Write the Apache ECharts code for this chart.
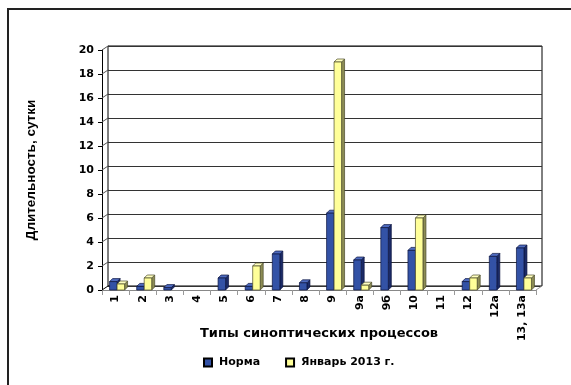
<!DOCTYPE html>
<html>
<head>
<meta charset="utf-8">
<script src="https://cdn.jsdelivr.net/npm/echarts@6/dist/echarts.min.js"></script>
<style>html,body{margin:0;padding:0;background:#fff;}#c{width:571px;height:385px;}</style>
</head>
<body>
<div id="c"></div>
<script>
var categories = ['1','2','3','4','5','6','7','8','9','9а','9б','10','11','12','12а','13, 13а'];
var normaValues = [0.7, 0.3, 0.2, 0, 1.0, 0.3, 3.0, 0.6, 6.4, 2.5, 5.2, 3.3, 0, 0.7, 2.8, 3.5];
var jan2013Values = [0.5, 1.0, 0, 0, 0, 2.0, 0, 0, 19, 0.4, 0, 6.0, 0, 1.0, 0, 1.0];
var yTicks = [0, 2, 4, 6, 8, 10, 12, 14, 16, 18, 20];
var seriesNames = ['Норма', 'Январь 2013 г.'];

var DX = 3, DY = -3, BW = 7.5;
var palettes = [
  {front: '#3352A6', side: '#1B2A66', top: '#4F6CC0', edge: '#0B1440'},
  {front: '#FFFF99', side: '#8C8C55', top: '#FFFFC0', edge: '#4A4A2A'}
];

function barRenderer(idx) {
  var p = palettes[idx];
  return function (params, api) {
    var ci = api.value(0), v = api.value(1);
    if (!v) return null;
    var t = api.coord([ci, v]);
    var b = api.coord([ci, 0]);
    var cx = t[0];
    var x0 = idx === 0 ? cx - 6 : cx + 1.5;
    var yT = t[1], yB = b[1];
    return {
      type: 'group',
      children: [
        {type: 'polygon', shape: {points: [[x0 + BW, yB], [x0 + BW + DX, yB + DY], [x0 + BW + DX, yT + DY], [x0 + BW, yT]]},
          style: {fill: p.side, stroke: p.edge, lineWidth: 0.7}},
        {type: 'polygon', shape: {points: [[x0, yT], [x0 + DX, yT + DY], [x0 + BW + DX, yT + DY], [x0 + BW, yT]]},
          style: {fill: p.top, stroke: p.edge, lineWidth: 0.7}},
        {type: 'rect', shape: {x: x0, y: yT, width: BW, height: yB - yT},
          style: {fill: p.front, stroke: p.edge, lineWidth: 0.7}}
      ]
    };
  };
}

function wallRenderer(params, api) {
  var v = api.value(1);
  var c = api.coord([0, v]);
  var half = api.size([1, 0])[0] / 2;
  var x = c[0] - half, y = c[1];
  return {type: 'line', shape: {x1: x, y1: y, x2: x + 6.5, y2: y - 4.3},
    style: {stroke: v === 0 ? '#000' : '#555', lineWidth: 1}};
}
function floorRenderer(params, api) {
  var c = api.coord([categories.length - 1, 0]);
  var half = api.size([1, 0])[0] / 2;
  var x = c[0] + half, y = c[1];
  return {type: 'line', shape: {x1: x, y1: y, x2: x + 6.5, y2: y - 4.3},
    style: {stroke: '#999', lineWidth: 1}};
}

var chart = echarts.init(document.getElementById('c'), null, {renderer: 'canvas'});
var FONT = 'DejaVu Sans';
chart.setOption({
  animation: false,
  backgroundColor: '#fff',
  graphic: [
    {type: 'rect', shape: {x: 8, y: 9, width: 700, height: 500}, style: {fill: 'none', stroke: '#222', lineWidth: 2}, silent: true, z: 100}
  ],
  grid: [
    {left: 102, right: 35, top: 50, bottom: 95},
    {left: 108, right: 29, top: 46, bottom: 99, show: true, borderColor: '#000', borderWidth: 1, backgroundColor: 'transparent'}
  ],
  legend: {
    data: seriesNames,
    left: 198, top: 352,
    itemWidth: 8, itemHeight: 8, itemGap: 25,
    icon: 'rect',
    textStyle: {fontFamily: FONT, fontWeight: 'bold', fontSize: 11, color: '#000', padding: [0, 0, 0, 2]}
  },
  xAxis: [
    {type: 'category', gridIndex: 0, data: categories,
      axisLine: {lineStyle: {color: '#888', width: 1}},
      axisTick: {show: true, length: 5, alignWithLabel: false, lineStyle: {color: '#999'}},
      axisLabel: {rotate: 90, margin: 5, interval: 0, fontFamily: FONT, fontWeight: 'bold', fontSize: 11, color: '#000'},
      name: 'Типы синоптических процессов', nameLocation: 'middle', nameGap: 37, nameMoveOverlap: false,
      nameTextStyle: {fontFamily: FONT, fontWeight: 'bold', fontSize: 13, color: '#000'}},
    {type: 'category', gridIndex: 1, data: categories, show: false}
  ],
  yAxis: [
    {type: 'value', gridIndex: 0, min: 0, max: 20, interval: 2,
      axisLine: {show: true, lineStyle: {color: '#000', width: 1}},
      axisTick: {show: true, length: 4, lineStyle: {color: '#000'}},
      splitLine: {show: false},
      axisLabel: {margin: 8, fontFamily: FONT, fontWeight: 'bold', fontSize: 11, color: '#000'},
      name: 'Длительность, сутки', nameLocation: 'middle', nameGap: 64, nameMoveOverlap: false,
      nameTextStyle: {fontFamily: 'Liberation Sans', fontWeight: 'bold', fontSize: 13.5, color: '#000'}},
    {type: 'value', gridIndex: 1, min: 0, max: 20, interval: 2,
      axisLine: {show: false}, axisTick: {show: false}, axisLabel: {show: false},
      splitLine: {show: true, lineStyle: {color: '#333', width: 1}}}
  ],
  series: [
    {name: 'wall', type: 'custom', xAxisIndex: 0, yAxisIndex: 0, silent: true, z: 1,
      data: yTicks.map(function (v) { return [0, v]; }), renderItem: wallRenderer},
    {name: 'floor', type: 'custom', xAxisIndex: 0, yAxisIndex: 0, silent: true, z: 1,
      data: [[categories.length - 1, 0]], renderItem: floorRenderer},
    {name: seriesNames[0], type: 'custom', xAxisIndex: 0, yAxisIndex: 0, z: 3,
      itemStyle: {color: palettes[0].front, borderColor: '#000', borderWidth: 1},
      data: normaValues.map(function (v, i) { return [i, v]; }), renderItem: barRenderer(0)},
    {name: seriesNames[1], type: 'custom', xAxisIndex: 0, yAxisIndex: 0, z: 4,
      itemStyle: {color: palettes[1].front, borderColor: '#000', borderWidth: 1},
      data: jan2013Values.map(function (v, i) { return [i, v]; }), renderItem: barRenderer(1)}
  ]
});
</script>
</body>
</html>
